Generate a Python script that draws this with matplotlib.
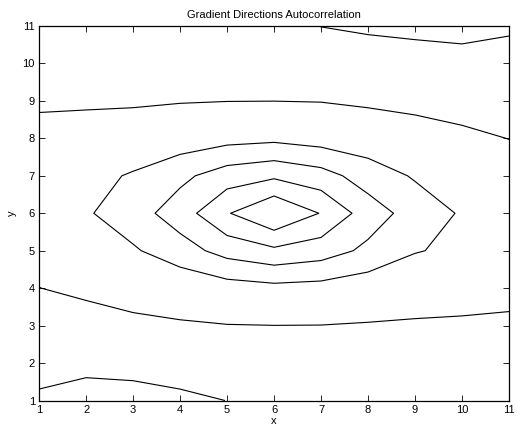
import numpy as np
import matplotlib
matplotlib.use("Agg")
import matplotlib.pyplot as plt

plt.rcParams['font.family'] = ['Liberation Sans', 'DejaVu Sans']

# lag grid (x, y) and autocorrelation surface, rows are y = 1..11
lag_x = np.arange(1, 12)
lag_y = np.arange(1, 12)
autocorr = [
    [0.89, 0.53, 0.55, 0.78, 1.01, 1.20, 1.30, 1.40, 1.50, 1.50, 1.40],
    [1.25, 1.30, 1.40, 1.50, 1.60, 1.65, 1.70, 1.70, 1.75, 1.70, 1.60],
    [1.55, 1.59, 1.92, 1.95, 1.98, 1.995, 1.99, 1.96, 1.92, 1.93, 1.91],
    [1.99, 2.20, 2.15, 2.27, 2.57, 2.73, 2.65, 2.41, 2.35, 2.20, 2.15],
    [2.30, 2.55, 2.88, 3.57, 4.37, 4.80, 4.48, 3.78, 3.05, 2.82, 2.35],
    [2.40, 2.89, 3.56, 4.50, 5.92, 7.00, 5.95, 4.51, 3.57, 2.90, 2.40],
    [2.30, 2.68, 3.10, 3.76, 4.50, 4.83, 4.40, 3.53, 2.90, 2.50, 2.30],
    [2.20, 2.25, 2.27, 2.43, 2.67, 2.78, 2.57, 2.40, 2.20, 2.15, 1.99],
    [1.91, 1.92, 1.94, 1.97, 1.99, 1.995, 1.98, 1.91, 1.88, 1.72, 1.60],
    [1.60, 1.70, 1.75, 1.70, 1.60, 1.50, 1.40, 1.30, 1.40, 1.25, 1.30],
    [1.50, 1.60, 1.50, 1.40, 1.30, 1.20, 0.99, 0.91, 0.77, 0.77, 0.89],
]
contour_levels = [1, 2, 3, 4, 5, 6]

fig = plt.figure(figsize=(5.28, 4.33), dpi=100)
ax = fig.add_axes([0.074, 0.075, 0.890, 0.865])

X, Y = np.meshgrid(lag_x, lag_y)
ax.contour(X, Y, np.array(autocorr), levels=contour_levels,
           colors='k', linewidths=0.8)

ax.set_xlim(1, 11)
ax.set_ylim(1, 11)
ax.set_xticks(lag_x)
ax.set_yticks(lag_y)
ax.tick_params(direction='in', top=True, right=True, length=4,
               width=0.6, labelsize=8, pad=3)
for side in ax.spines.values():
    side.set_linewidth(0.9)

ax.set_title('Gradient Directions Autocorrelation', fontsize=8, pad=6)
ax.set_xlabel('x', fontsize=8, labelpad=1)
ax.set_ylabel('y', fontsize=8, labelpad=4)

fig.savefig('out.png', dpi=100)
